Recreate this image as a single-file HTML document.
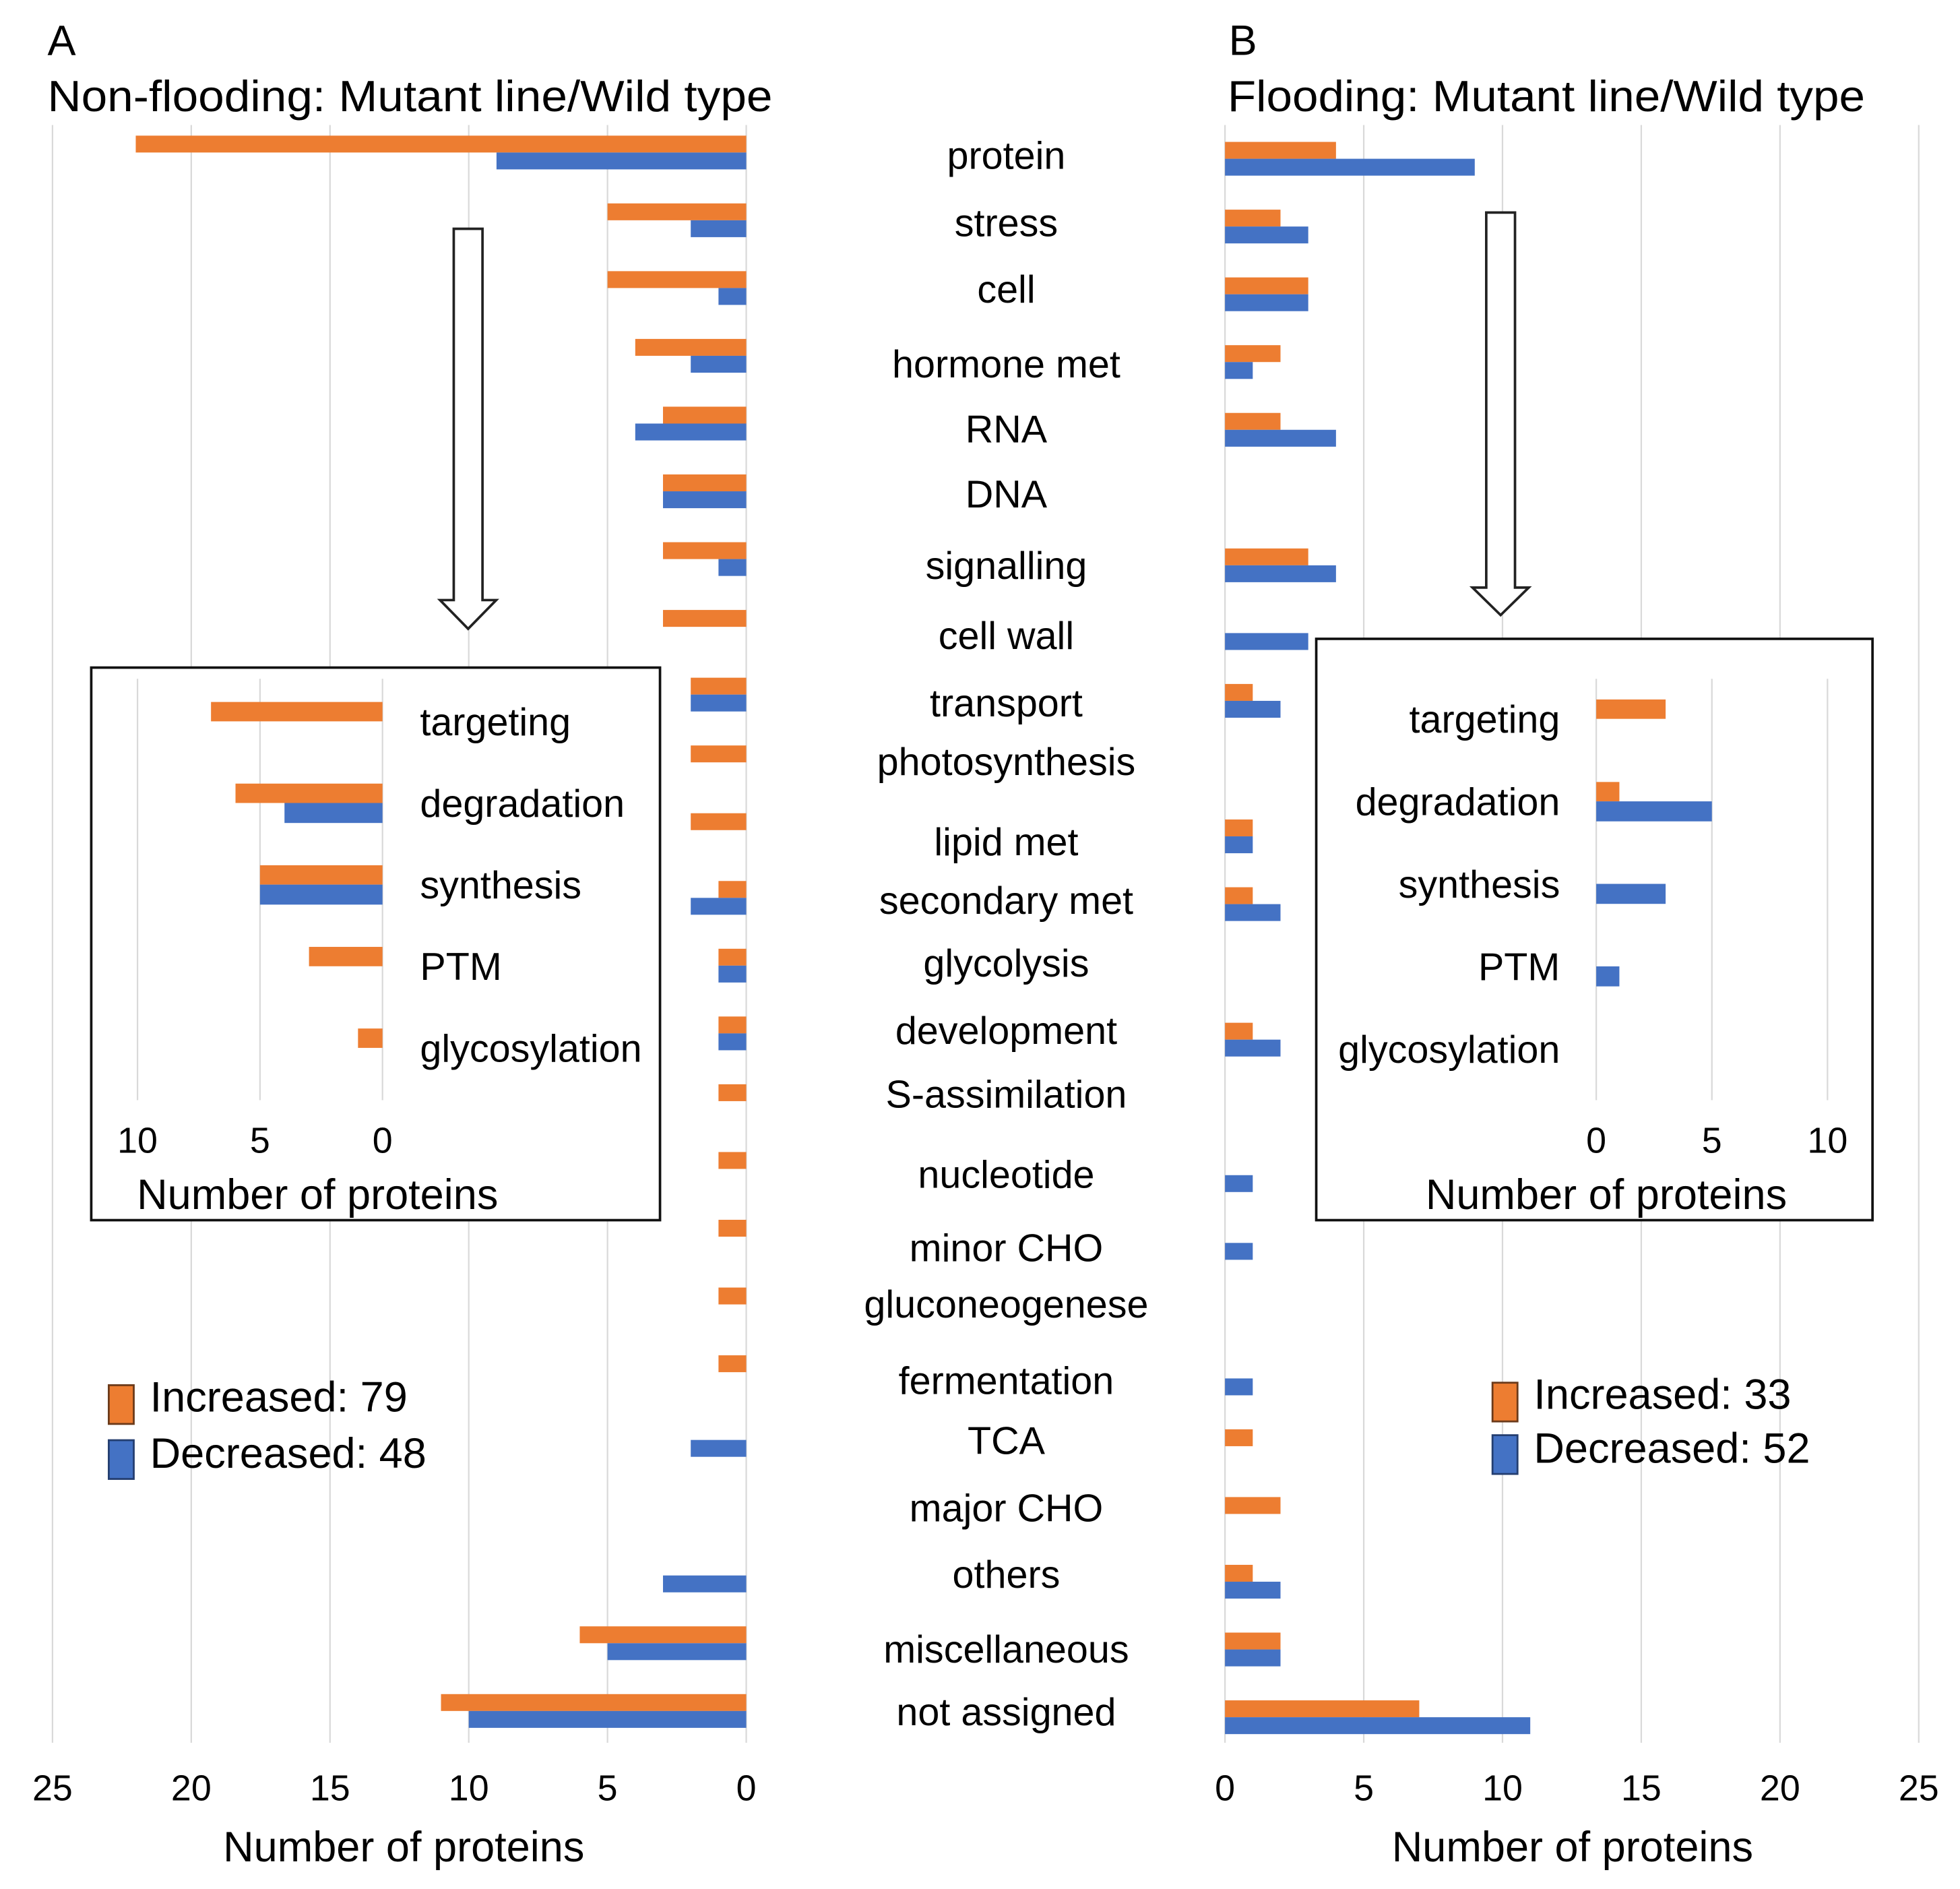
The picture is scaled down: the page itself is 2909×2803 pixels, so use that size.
<!DOCTYPE html>
<html><head><meta charset="utf-8"><style>
html,body{margin:0;padding:0;background:#fff;}
svg{display:block;font-family:"Liberation Sans",Arial,sans-serif;}
</style></head><body>
<svg id="chart" width="2909" height="2803" viewBox="0 0 1568 1511" preserveAspectRatio="none" xmlns="http://www.w3.org/2000/svg">
<g id="grid"></g>
<g id="bars"></g>
<g id="labels"></g>
<g id="overlay"></g>
</svg>
<script>
const categories = ["protein","stress","cell","hormone met","RNA","DNA","signalling","cell wall","transport","photosynthesis","lipid met","secondary met","glycolysis","development","S-assimilation","nucleotide","minor CHO","gluconeogenese","fermentation","TCA","major CHO","others","miscellaneous","not assigned"];
const nonFloodIncreased = [22,5,5,4,3,3,3,3,2,2,2,1,1,1,1,1,1,1,1,0,0,0,6,11];
const nonFloodDecreased = [9,2,1,2,4,3,1,0,2,0,0,2,1,1,0,0,0,0,0,2,0,3,5,10];
const floodIncreased = [4,2,3,2,2,0,3,0,1,0,1,1,0,1,0,0,0,0,0,1,2,1,2,7];
const floodDecreased = [9,3,3,1,4,0,4,3,2,0,1,2,0,2,0,1,1,0,1,0,0,2,2,11];
const mainTicks = [0,5,10,15,20,25];
const insetCategories = ["targeting","degradation","synthesis","PTM","glycosylation"];
const insetNonFloodIncreased = [7,6,5,3,1];
const insetNonFloodDecreased = [0,4,5,0,0];
const insetFloodIncreased = [3,1,0,0,0];
const insetFloodDecreased = [0,5,3,1,0];
const insetTicks = [0,5,10];
const labelY = [125,179,232,292,344,396,453,509,563,610,674,721,771,825,876,940,999,1044,1105,1153,1207,1260,1320,1370];

const NS="http://www.w3.org/2000/svg";
const OR="#ED7D31", BL="#4472C4", GR="#d9d9d9";
function mk(parent,tag,attrs,text){const e=document.createElementNS(NS,tag);for(const k in attrs)e.setAttribute(k,attrs[k]);if(text!==undefined)e.textContent=text;parent.appendChild(e);return e;}
const G=document.getElementById('grid'),B=document.getElementById('bars'),L=document.getElementById('labels'),O=document.getElementById('overlay');

const xL=v=>597-22.2*v, xR=v=>980+22.2*v;
const yL=i=>122+54.2*i, yR=i=>127+54.2*i;
const BH=13.5;

mainTicks.forEach(t=>{
  let g=mk(G,'line',{x1:xL(t),x2:xL(t),y1:100,y2:1394,stroke:GR,'stroke-width':1.2});
  
  
  g=mk(G,'line',{x1:xR(t),x2:xR(t),y1:100,y2:1394,stroke:GR,'stroke-width':1.2});
  
  
  let tl=mk(L,'text',{x:xL(t),y:1440,'text-anchor':'middle','font-size':29},String(t));
  
  
  tl=mk(L,'text',{x:xR(t),y:1440,'text-anchor':'middle','font-size':29},String(t));
  
  
});

function hbar(parent,x0,x1,y,h,fill,name){
  const r=mk(parent,'rect',{x:Math.min(x0,x1),y:y,width:Math.abs(x1-x0),height:h,fill:fill});
  
  
  return r;
}
categories.forEach((c,i)=>{
  if(nonFloodIncreased[i]>0) hbar(B,xL(0),xL(nonFloodIncreased[i]),yL(i)-BH,BH,OR,'bar-nonflood-increased');
  if(nonFloodDecreased[i]>0) hbar(B,xL(0),xL(nonFloodDecreased[i]),yL(i),BH,BL,'bar-nonflood-decreased');
  if(floodIncreased[i]>0) hbar(B,xR(0),xR(floodIncreased[i]),yR(i)-BH,BH,OR,'bar-flood-increased');
  if(floodDecreased[i]>0) hbar(B,xR(0),xR(floodDecreased[i]),yR(i),BH,BL,'bar-flood-decreased');
  const t=mk(L,'text',{x:805,y:labelY[i]+10,'text-anchor':'middle','font-size':31},c);
  
  
});

function arrow(cx,y0,y1,y2){
  const p=mk(O,'path',{d:`M${cx-11.5},${y0} H${cx+11.5} V${y1} H${cx+22.5} L${cx},${y2} L${cx-22.5},${y1} H${cx-11.5} Z`,fill:'#fff',stroke:'#222','stroke-width':2});
  
  
}
arrow(374.5,183,480,503);
arrow(1200.5,170,470,492);

function inset(bx,by,bw,bh,xs,cy,inc,dec,labelX,anchor,titleX,name){
  const g=mk(O,'g',{});
  
  
  mk(g,'rect',{x:bx,y:by,width:bw,height:bh,fill:'#fff',stroke:'#111','stroke-width':2});
  insetTicks.forEach(t=>{
    const l=mk(g,'line',{x1:xs(t),x2:xs(t),y1:543,y2:880,stroke:GR,'stroke-width':1.2});
    
    
    const tl=mk(g,'text',{x:xs(t),y:922,'text-anchor':'middle','font-size':29},String(t));
    
    
  });
  insetCategories.forEach((c,i)=>{
    if(inc[i]>0) hbar(g,xs(0),xs(inc[i]),cy(i)-15.5,15.5,OR,'inset-bar-increased');
    if(dec[i]>0) hbar(g,xs(0),xs(dec[i]),cy(i),16,BL,'inset-bar-decreased');
    const t=mk(g,'text',{x:labelX,y:cy(i)+11,'text-anchor':anchor,'font-size':31},c);
    
    
  });
  const tt=mk(g,'text',{x:titleX,y:967,'text-anchor':'middle','font-size':34},'Number  of proteins');
  
  
}
inset(73,534,455,442,v=>306-19.6*v,i=>577+65.3*i,insetNonFloodIncreased,insetNonFloodDecreased,336,'start',254,'left-inset');
inset(1053,511,445,465,v=>1277+18.5*v,i=>575+66*i,insetFloodIncreased,insetFloodDecreased,1248,'end',1285,'right-inset');

function legend(x,tx,y1,y2,t1,t2,name){
  const g=mk(O,'g',{});
  
  
  const a=mk(g,'rect',{x:x,y:y1,width:20,height:31,fill:OR,stroke:'#6b3a1a','stroke-width':1.5});
  
  
  const b=mk(g,'rect',{x:x,y:y2,width:20,height:31,fill:BL,stroke:'#243e70','stroke-width':1.5});
  
  
  const c=mk(g,'text',{x:tx,y:y1+21,'font-size':34},t1);
  
  
  const d=mk(g,'text',{x:tx,y:y2+22,'font-size':34},t2);
  
  
}
legend(87,120,1108,1152,'Increased: 79','Decreased: 48','left-legend');
legend(1194,1227,1106,1148,'Increased: 33','Decreased: 52','right-legend');

function txt(x,y,s,fs,name,extra){
  const t=mk(L,'text',Object.assign({x:x,y:y,'font-size':fs},extra||{}),s);
  
  
}
txt(38,44,'A',34,'panel-label-a');
txt(983,44,'B',34,'panel-label-b');
txt(38,89,'Non-flooding:  Mutant  line/Wild type',35,'left-title',{textLength:580,lengthAdjust:'spacingAndGlyphs'});
txt(982,89,'Flooding:  Mutant  line/Wild type',35,'right-title',{textLength:510,lengthAdjust:'spacingAndGlyphs'});
txt(323,1489,'Number  of proteins',34,'left-x-axis-title',{'text-anchor':'middle'});
txt(1258,1489,'Number  of proteins',34,'right-x-axis-title',{'text-anchor':'middle'});
</script>
</body></html>
